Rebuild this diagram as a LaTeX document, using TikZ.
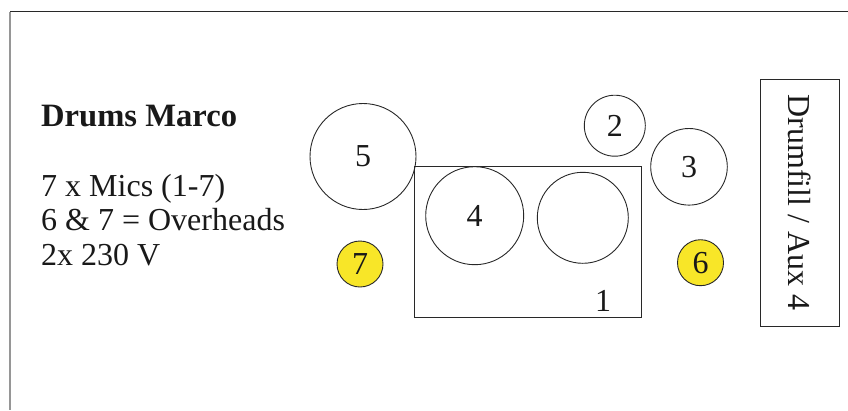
\documentclass[tikz,border=0pt]{standalone}
\usepackage{fontspec}
\setmainfont{Liberation Serif}
\definecolor{linec}{RGB}{40,40,40}
\definecolor{framegray}{RGB}{150,150,150}
\definecolor{ovhyellow}{RGB}{248,230,40}
\begin{document}
\begin{tikzpicture}[x=1pt,y=-1pt,
  every node/.style={font=\fontsize{32}{34.5}\selectfont, text=black!90},
  drum/.style={circle, draw=linec, line width=0.9pt, inner sep=0pt},
  overhead/.style={drum, fill=ovhyellow, minimum size=46pt},
  infotext/.style={anchor=base west, inner sep=0pt},
  kickbox/.style={draw=linec, line width=0.9pt}]
\useasboundingbox (0,0) rectangle (848,410);
% frame
\coordinate (ftl) at (10,11.5);
\coordinate (ftr) at (848,11.5);
\coordinate (fbl) at (10,410);
\draw[linec, line width=1pt] (ftl) -- (ftr);
\draw[framegray, line width=2pt] (ftl) -- (fbl);
% left text
\node[infotext, font=\fontsize{32.6}{34.5}\selectfont\bfseries] (title) at (41,126) {Drums Marco};
\node[infotext] (l1) at (41,196) {7 x Mics (1-7)};
\node[infotext] (l2) at (41,230.5) {6 \& 7 = Overheads};
\node[infotext] (l3) at (41,265) {2x 230 V};
% kick box
\draw[kickbox] (414.3,166.3) rectangle (641.3,317.7);
\node[anchor=base, inner sep=0pt] (n1) at (603,311) {1};
% drums
\node[drum, minimum size=106pt] (c5) at (363,156.5) {5};
\node[drum, minimum size=98pt] (c4) at (474.7,215.7) {4};
\node[drum, minimum size=91pt] (c0) at (582.8,217.8) {};
\node[drum, minimum size=61pt] (c2) at (614.8,125.7) {2};
\node[drum, minimum size=76.6pt] (c3) at (689,166.8) {3};
\node[overhead] (c7) at (360,264) {7};
\node[overhead] (c6) at (700.5,262.7) {6};
% drumfill box
\node[draw=linec, line width=0.9pt, minimum width=78.3pt, minimum height=246.7pt, inner sep=0pt] (fill) at (799.85,202.65) {};
\node[rotate=-90, inner sep=0pt] (filltext) at (fill.center) {Drumfill / Aux 4};
\end{tikzpicture}
\end{document}
